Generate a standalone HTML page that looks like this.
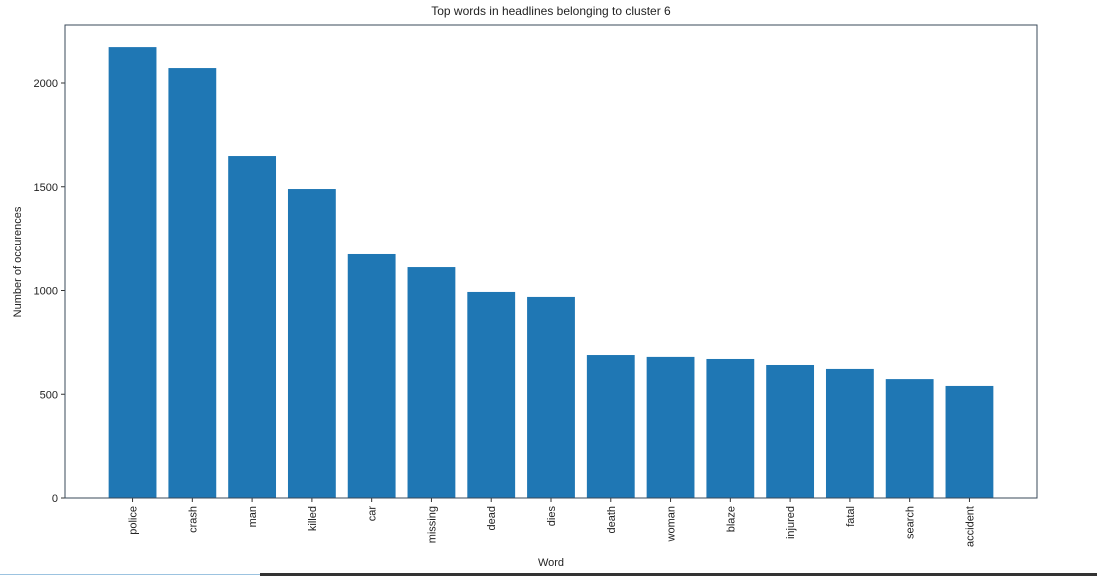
<!DOCTYPE html>
<html><head><meta charset="utf-8"><style>
body{margin:0;background:#fff;width:1097px;height:576px;overflow:hidden;font-family:"Liberation Sans","DejaVu Sans",sans-serif;}
svg text{font-family:"Liberation Sans","DejaVu Sans",sans-serif;fill:#222;}
</style></head><body>
<svg id="chart" width="1097" height="576" viewBox="0 0 1097 576" xmlns="http://www.w3.org/2000/svg">
<text x="551" y="15" font-size="12" text-anchor="middle">Top words in headlines belonging to cluster 6</text>
<text transform="translate(21,262) rotate(-90)" font-size="11" text-anchor="middle">Number of occurences</text>
<text x="551" y="566" font-size="11" text-anchor="middle">Word</text>
<g id="bars"></g><g id="axes"></g>
<line x1="0" y1="574.5" x2="260" y2="574.5" stroke="#9cc3e0" stroke-width="1"/>
<rect x="260" y="573" width="837" height="3" fill="#333"/>
</svg>
<script>
const categories=["police","crash","man","killed","car","missing","dead","dies","death","woman","blaze","injured","fatal","search","accident"];
const values=[2173,2072,1648,1489,1176,1113,993,969,689,680,670,641,622,573,540];
const yTicks=[0,500,1000,1500,2000];
const L=65,R=1037,T=25,B=498;
const x0=-1.13,x1=categories.length-1+1.13;
function xs(i){return L+(i-x0)/(x1-x0)*(R-L);}
function ys(v){return B-v*(B-83)/2000;}
const NS="http://www.w3.org/2000/svg";
const bars=document.getElementById('bars'),axes=document.getElementById('axes');
const bw=0.8*(xs(1)-xs(0));
categories.forEach((c,i)=>{
 const r=document.createElementNS(NS,'rect');
 r.setAttribute('x',xs(i)-bw/2);r.setAttribute('y',ys(values[i]));
 r.setAttribute('width',bw);r.setAttribute('height',B-ys(values[i]));
 r.setAttribute('fill','#1f77b4');
 
 
 bars.appendChild(r);
 const t=document.createElementNS(NS,'line');
 t.setAttribute('x1',xs(i));t.setAttribute('x2',xs(i));t.setAttribute('y1',B);t.setAttribute('y2',B+4);t.setAttribute('stroke','#333');
 
 
 axes.appendChild(t);
 const l=document.createElementNS(NS,'text');
 l.setAttribute('transform','translate('+(xs(i)+4)+','+(B+8)+') rotate(-90)');
 l.setAttribute('text-anchor','end');l.setAttribute('font-size','11');
 l.textContent=c;
 
 
 axes.appendChild(l);
});
yTicks.forEach(v=>{
 const t=document.createElementNS(NS,'line');
 t.setAttribute('x1',L-4);t.setAttribute('x2',L);t.setAttribute('y1',ys(v));t.setAttribute('y2',ys(v));t.setAttribute('stroke','#333');
 
 
 axes.appendChild(t);
 const l=document.createElementNS(NS,'text');
 l.setAttribute('x',L-7);l.setAttribute('y',ys(v)+4);l.setAttribute('text-anchor','end');l.setAttribute('font-size','11');
 l.textContent=v;
 
 
 axes.appendChild(l);
});
const f=document.createElementNS(NS,'rect');
f.setAttribute('x',L);f.setAttribute('y',T);f.setAttribute('width',R-L);f.setAttribute('height',B-T);
f.setAttribute('fill','none');f.setAttribute('stroke','#3a4a5a');f.setAttribute('stroke-width','1');


axes.appendChild(f);
</script>
</body></html>
